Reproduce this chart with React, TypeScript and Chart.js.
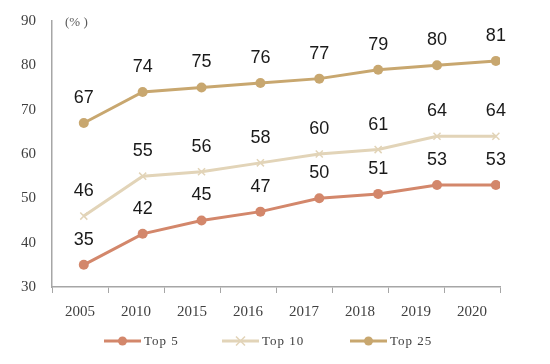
import React, { useEffect, useRef } from "react";
import { Chart, registerables } from "chart.js";

Chart.register(...registerables);

const categories = ["2005", "2010", "2015", "2016", "2017", "2018", "2019", "2020"];
const top5 = [35, 42, 45, 47, 50, 51, 53, 53];
const top10 = [46, 55, 56, 58, 60, 61, 64, 64];
const top25 = [67, 74, 75, 76, 77, 79, 80, 81];
const seriesNames = ["Top 5", "Top 10", "Top 25"];
const yTicks = [30, 40, 50, 60, 70, 80, 90];
const unitLabel = "(% )";

const colors = ["#D3876B", "#E2D4B8", "#C8A76F"];
const styles = ["circle", "crossRot", "circle"];

const labelPlugin = {
  id: "valueLabels",
  afterDatasetsDraw(chart: any) {
    const ctx = chart.ctx;
    ctx.save();
    ctx.font = "18px 'Liberation Sans', Arial, sans-serif";
    ctx.fillStyle = "#1a1a1a";
    ctx.textAlign = "center";
    ctx.textBaseline = "middle";
    chart.data.datasets.forEach((ds: any, i: number) => {
      const meta = chart.getDatasetMeta(i);
      meta.data.forEach((pt: any, j: number) => {
        ctx.fillText(String(ds.data[j].y), pt.x, pt.y - 25);
      });
    });
    const ca = chart.chartArea;
    // unit label
    ctx.font = "13px 'Liberation Serif', serif";
    ctx.fillStyle = "#595959";
    ctx.textAlign = "left";
    ctx.fillText(unitLabel, ca.left + 13, ca.top + 2);
    // legend
    const ly = 341;
    const xs = [104, 222, 350];
    (ctx as any).letterSpacing = "1px";
    chart.data.datasets.forEach((ds: any, i: number) => {
      const x = xs[i];
      ctx.strokeStyle = ds.borderColor;
      ctx.lineWidth = 3;
      ctx.beginPath();
      ctx.moveTo(x, ly);
      ctx.lineTo(x + 37, ly);
      ctx.stroke();
      if (styles[i] === "circle") {
        ctx.fillStyle = ds.borderColor;
        ctx.beginPath();
        ctx.arc(x + 18.5, ly, 4.5, 0, Math.PI * 2);
        ctx.fill();
      } else {
        ctx.lineWidth = 1.5;
        ctx.beginPath();
        ctx.moveTo(x + 14, ly - 4.5);
        ctx.lineTo(x + 23, ly + 4.5);
        ctx.moveTo(x + 23, ly - 4.5);
        ctx.lineTo(x + 14, ly + 4.5);
        ctx.stroke();
      }
      ctx.fillStyle = "#404040";
      ctx.textAlign = "left";
      ctx.fillText(ds.label, x + 40, ly + 1);
    });
    ctx.restore();
  },
};

export default function App() {
  const ref = useRef<HTMLCanvasElement>(null);
  useEffect(() => {
    document.body.style.margin = "0";
    const seriesData = [top5, top10, top25];
    const chart = new Chart(ref.current!, {
      type: "line",
      data: {
        labels: categories,
        datasets: seriesData.map((d, i) => ({
          label: seriesNames[i],
          data: d.map((v, j) => ({ x: j, y: v })),
          xAxisID: "xp",
          borderColor: colors[i],
          backgroundColor: colors[i],
          borderWidth: 3,
          pointStyle: styles[i] as any,
          pointRadius: 5,
          pointBorderWidth: styles[i] === "circle" ? 0 : 1.5,
          pointBorderColor: colors[i],
          pointBackgroundColor: colors[i],
          tension: 0,
        })),
      },
      options: {
        animation: false,
        responsive: false,
        layout: { padding: { left: 0, right: 50, top: 21, bottom: 0 } },
        plugins: { legend: { display: false }, tooltip: { enabled: false } },
        scales: {
          x: {
            type: "category",
            offset: true,
            grid: { display: true, drawOnChartArea: false, drawTicks: true, tickLength: 6, color: "#A6A6A6", offset: true },
            border: { display: true, color: "#A6A6A6", width: 1.5 },
            ticks: { font: { family: "'Liberation Serif', serif", size: 15 }, color: "#404040", padding: 10, maxRotation: 0 },
            afterFit(scale: any) { scale.height = 77; },
          },
          xp: { type: "linear", display: false, min: -0.54, max: 7.07 },
          y: {
            min: 30,
            max: 90,
            afterBuildTicks(scale: any) { scale.ticks = yTicks.map((v) => ({ value: v })); },
            grid: { display: false, drawTicks: false },
            border: { display: true, color: "#A6A6A6", width: 1.5 },
            ticks: { font: { family: "'Liberation Serif', serif", size: 15 }, color: "#404040", padding: 16 },
            afterFit(scale: any) {
              scale.width = 52;
              scale.paddingTop = 0;
              scale.paddingBottom = 0;
            },
          },
        },
      },
      plugins: [labelPlugin],
    });
    return () => chart.destroy();
  }, []);
  return (
    <div style={{ position: "absolute", left: 0, top: 0, width: 550, height: 364, background: "#fff" }}>
      <canvas ref={ref} width={550} height={364} />
    </div>
  );
}
